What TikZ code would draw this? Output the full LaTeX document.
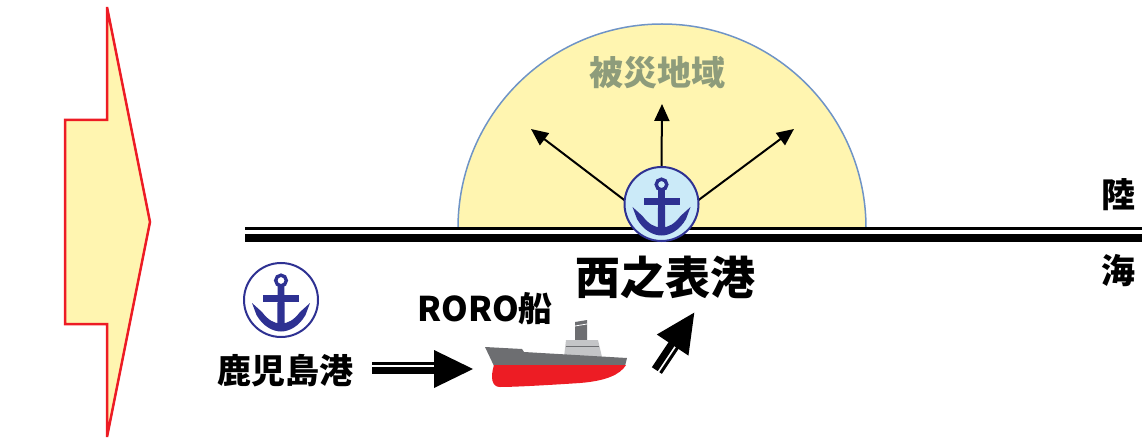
\documentclass[tikz,border=0pt]{standalone}
\usepackage{fontspec}
\setmainfont{Noto Sans CJK JP}
\usetikzlibrary{arrows.meta}
\usepackage{xcolor}

\definecolor{landyel}{HTML}{FFF5B0}
\definecolor{arcblue}{HTML}{6F94C6}
\definecolor{ancblue}{HTML}{2E3192}
\definecolor{ancfill}{HTML}{CBEAF8}
\definecolor{zonegreen}{HTML}{8E9C7B}
\definecolor{hullred}{HTML}{ED1C24}
\definecolor{shipdark}{HTML}{6D6E71}
\definecolor{shiplight}{HTML}{C4C5C7}

\tikzset{
	lbl/.style={font=\bfseries\fontsize{34}{34}\selectfont, inner sep=0pt},
	port/.style={circle, draw=ancblue, line width=2pt, minimum size=74pt, inner sep=0pt},
	ray/.style={line width=2pt, -{Triangle[length=17pt, width=15pt]}},
	pics/anchorsym/.style={code={
		\draw[ancblue, line width=3.4pt] (0,-19.5) circle (5.3);
		\fill[ancblue] (-3.3,-14) -- (3.3,-14) -- (3.8,28) -- (-3.8,28) -- cycle;
		\fill[ancblue] (-18,-5.5) rectangle (18,1.5);
		\fill[ancblue] (-29,3) -- (-24.5,15) .. controls (-18,26.5) and (-8,31.5) .. (0,31.5)
			.. controls (8,31.5) and (18,26.5) .. (24.5,15) -- (29,3) -- (19,12)
			.. controls (13,20) and (7,23.5) .. (0,23.5)
			.. controls (-7,23.5) and (-13,20) .. (-19,12) -- cycle;
	}},
	pics/twinarrow/.style={code={
		\fill[black] (#1-39,-19) -- (#1,0) -- (#1-39,19) -- cycle;
		\draw[line width=3pt] (0,-5.5) -- (#1-38,-5.5);
		\draw[line width=7pt] (0,1.5) -- (#1-38,1.5);
	}},
}

\begin{document}
\begin{tikzpicture}[x=1pt, y=-1pt]
	\useasboundingbox (0,0) rectangle (1147,446);

	% big arrow on the left
	\draw[hullred, fill=landyel, line width=2.5pt, line join=miter]
		(107,7) -- (107,120) -- (65,120) -- (65,324) -- (107,324) -- (107,437) -- (150,222) -- cycle;

	% damaged area
	\draw[arcblue, fill=landyel, line width=1.5pt] (458,228) arc (180:360:204) -- cycle;
	\node[font=\bfseries\fontsize{34}{34}\selectfont, text=zonegreen, inner sep=0pt] at (657,73) (higai) {被災地域};

	\coordinate (origin) at (661,228);
	\coordinate (tl) at (531,129);
	\coordinate (tm) at (662,104);
	\coordinate (tr) at (794,129);
	\draw
	(origin) edge[ray] (tl)
	(origin) edge[ray] (tm)
	(origin) edge[ray] (tr);

	% coast line
	\draw[line width=3pt] (245,228.5) -- (1142,228.5);
	\draw[line width=8pt] (245,238) -- (1142,238);

	\node[lbl] at (1118,195) (riku) {陸};
	\node[lbl] at (1118,271) (umi) {海};

	% ports
	\node[port, fill=ancfill] at (661.5,204) (nport) {};
	\pic at (nport) {anchorsym};
	\node[port, fill=white] at (281,300) (kport) {};
	\pic at (kport) {anchorsym};

	\node[lbl, font=\bfseries\fontsize{45}{45}\selectfont] at (665,277) (nishi) {西之表港};
	\node[lbl] at (285,371) (kago) {鹿児島港};
	\node[lbl] at (485,309) (roro) {RORO船};

	% ship
	\fill[shipdark] (575,322) -- (587,320) -- (587,341) -- (575,341) -- cycle;
	\draw[white, line width=0.8pt] (575,326) -- (587,324);
	\fill[shiplight] (566,340) -- (598,340) -- (602,357) -- (564,357) -- cycle;
	\draw[shipdark, line width=0.6pt] (566,346) -- (599,346);
	\fill[shipdark] (485,347) -- (522,349) -- (524,352) -- (627,358) -- (625,366) -- (494,366) -- cycle;
	\fill[hullred] (494,365) -- (626,365) .. controls (620,375) and (605,381) .. (580,383)
		.. controls (550,385) and (515,387) .. (500,387) .. controls (492,387) and (490,378) .. (494,365) -- cycle;

	% route arrows
	\coordinate (kstart) at (372,369);
	\coordinate (nstart) at (656,370);
	\pic at (kstart) {twinarrow=101};
	\pic[rotate=56.3, yscale=-1] at (nstart) {twinarrow=69};
\end{tikzpicture}
\end{document}
